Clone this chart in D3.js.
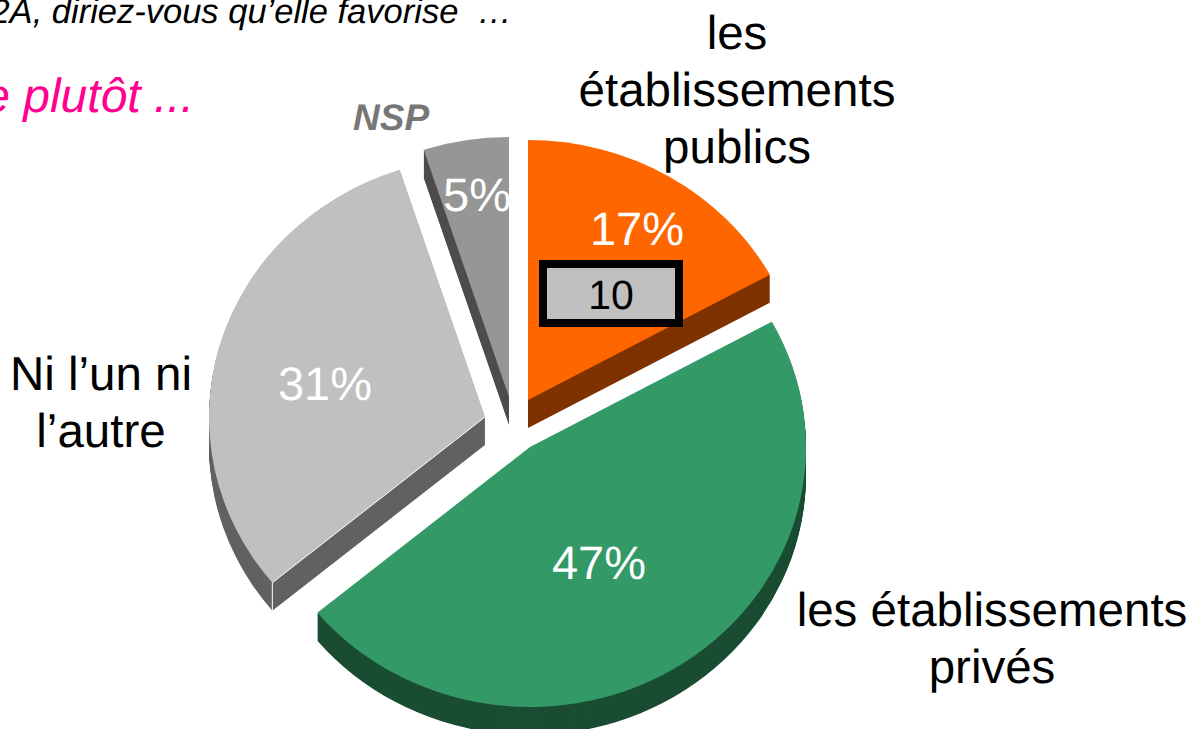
<!DOCTYPE html>
<html>
<head>
  <meta charset="utf-8">
  <title>Favorise plutôt</title>
  <style>
    body { margin: 0; background: #fff; overflow: hidden; }
    text { font-family: "Liberation Sans", Arial, sans-serif; text-rendering: geometricPrecision; }
  </style>
</head>
<body>
<svg width="1192" height="729"></svg>
<script src="https://d3js.org/d3.v7.min.js"></script>
<script>
  // chart values
  var categories = ["les établissements publics", "les établissements privés", "Ni l’un ni l’autre", "NSP"];
  var values = [17, 47, 31, 5];
  var boxValue = "10";

  // slice look, same order as categories
  var topColors = ["#ff6600", "#339966", "#c0c0c0", "#969696"];
  var sideColors = ["#7f3300", "#1a4d33", "#626262", "#4d4d4d"];
  var apexes = [[528, 400], [530, 447], [485, 417], [509, 397]];
  var pctPos = [[637, 245], [599, 579], [325, 400], [477, 211]];

  var rx = 276, ry = 260, depth = 28;

  var svg = d3.select("svg");

  var pie = d3.pie().sort(null)(values);
  var arc = d3.arc().innerRadius(0).outerRadius(rx);

  // extruded side first, one layer per pixel of depth, then the top face
  var slices = svg.append("g").selectAll("g")
    .data(pie)
    .enter().append("g")
    .attr("transform", function (d, i) { return "translate(" + apexes[i] + ")"; });

  slices.selectAll("path.side")
    .data(function (d, i) {
      return d3.range(depth, 0, -1).map(function (k) { return { d: d, i: i, k: k }; });
    })
    .enter().append("path")
    .attr("class", "side")
    .attr("transform", function (e) { return "translate(0," + e.k + ") scale(1," + ry / rx + ")"; })
    .attr("d", function (e) { return arc(e.d); })
    .attr("fill", function (e) { return sideColors[e.i]; });

  slices.append("path")
    .attr("transform", "scale(1," + ry / rx + ")")
    .attr("d", arc)
    .attr("fill", function (d, i) { return topColors[i]; });

  // thin white highlight on the front corner of the grey slice
  var grey = pie[2];
  var cx = rx * Math.sin(grey.startAngle), cy = -ry * Math.cos(grey.startAngle);
  slices.filter(function (d, i) { return i === 2; })
    .append("path")
    .attr("d", "M0,0L" + cx + "," + cy + "v" + depth)
    .attr("fill", "none")
    .attr("stroke", "#fff")
    .attr("stroke-width", 1);

  // percentages
  svg.append("g").selectAll("text")
    .data(values)
    .enter().append("text")
    .attr("x", function (d, i) { return pctPos[i][0]; })
    .attr("y", function (d, i) { return pctPos[i][1]; })
    .attr("text-anchor", "middle")
    .attr("font-size", 47)
    .attr("fill", "#fff")
    .text(function (d) { return d + "%"; });

  // small box on the orange slice
  svg.append("rect")
    .attr("x", 543).attr("y", 264)
    .attr("width", 136).attr("height", 59)
    .attr("fill", "#c0c0c0")
    .attr("stroke", "#000")
    .attr("stroke-width", 8);
  svg.append("text")
    .attr("x", 611).attr("y", 309)
    .attr("text-anchor", "middle")
    .attr("font-size", 41)
    .attr("fill", "#000")
    .text(boxValue);

  // category labels, broken into lines by hand
  var labelLines = [
    { x: 737, y: 49, lines: ["les", "établissements", "publics"] },
    { x: 992, y: 626, lines: ["les établissements", "privés"] },
    { x: 101, y: 390, lines: ["Ni l’un ni", "l’autre"] }
  ];
  labelLines.forEach(function (l) {
    l.lines.forEach(function (t, j) {
      svg.append("text")
        .attr("x", l.x)
        .attr("y", l.y + j * 57)
        .attr("text-anchor", "middle")
        .attr("font-size", 47.5)
        .attr("fill", "#000")
        .text(t);
    });
  });

  svg.append("text")
    .attr("x", 353).attr("y", 130)
    .attr("font-size", 37)
    .attr("font-weight", "bold")
    .attr("font-style", "italic")
    .attr("fill", "#777")
    .text(categories[3]);

  // question text, cut off by the left edge of the slide
  svg.append("text")
    .attr("x", 512).attr("y", 23)
    .attr("text-anchor", "end")
    .attr("font-size", 34.5)
    .attr("font-style", "italic")
    .attr("fill", "#000")
    .style("white-space", "pre")
    .text("2A, diriez-vous qu’elle favorise  …");

  svg.append("text")
    .attr("x", 194).attr("y", 112)
    .attr("text-anchor", "end")
    .attr("font-size", 48)
    .attr("font-style", "italic")
    .attr("fill", "#ff0090")
    .text("e plutôt ...");
</script>
</body>
</html>
